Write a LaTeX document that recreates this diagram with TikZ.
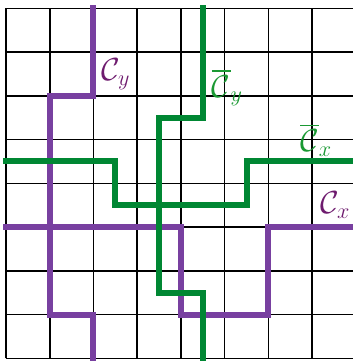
\documentclass[tikz,border=0pt]{standalone}
\usepackage{amsmath}
\definecolor{pline}{HTML}{7840A0}
\definecolor{ptext}{HTML}{6E1B6E}
\definecolor{gline}{HTML}{008733}
\definecolor{gtext}{HTML}{1A9933}
\tikzset{
  gridline/.style={black, line width=1pt},
  ppath/.style={pline, line width=0.137cm, line cap=rect, line join=miter},
  gpath/.style={gline, line width=0.137cm, line cap=rect, line join=miter},
  lab/.style={anchor=base west, inner sep=0pt, font=\fontsize{22}{26}\selectfont},
}
\begin{document}
\begin{tikzpicture}
\useasboundingbox (-0.137,0.19) rectangle (7.931,-8.085);
\clip (-0.137,0.19) rectangle (7.931,-8.085);
\draw[gridline] (0,-8) grid (8,0);
% purple C_y
\coordinate (cy0) at (2,0);
\coordinate (cy5) at (2,-8);
\draw[ppath] (cy0) -- (2,-2) -- (1,-2) -- (1,-7) -- (2,-7) -- (cy5);
% purple C_x
\coordinate (cx0) at (0,-5);
\coordinate (cx5) at (8,-5);
\draw[ppath] (cx0) -- (4,-5) -- (4,-7) -- (6,-7) -- (6,-5) -- (cx5);
% green Cbar_y
\coordinate (gy0) at (4.5,0);
\coordinate (gy5) at (4.5,-8);
\draw[gpath] (gy0) -- (4.5,-2.5) -- (3.5,-2.5) -- (3.5,-6.5) -- (4.5,-6.5) -- (gy5);
% green Cbar_x
\coordinate (gx0) at (0,-3.5);
\coordinate (gx5) at (8,-3.5);
\draw[gpath] (gx0) -- (2.5,-3.5) -- (2.5,-4.5) -- (5.5,-4.5) -- (5.5,-3.5) -- (gx5);
% labels
\node[lab, text=ptext] (lcy) at (2.17,-1.66) {$\mathcal{C}_y$};
\node[lab, text=gtext] (lgy) at (4.70,-2.03) {$\overline{\mathcal{C}}_y$};
\node[lab, text=gtext] (lgx) at (6.72,-3.28) {$\overline{\mathcal{C}}_x$};
\node[lab, text=ptext] (lcx) at (7.18,-4.70) {$\mathcal{C}_x$};
\end{tikzpicture}
\end{document}
